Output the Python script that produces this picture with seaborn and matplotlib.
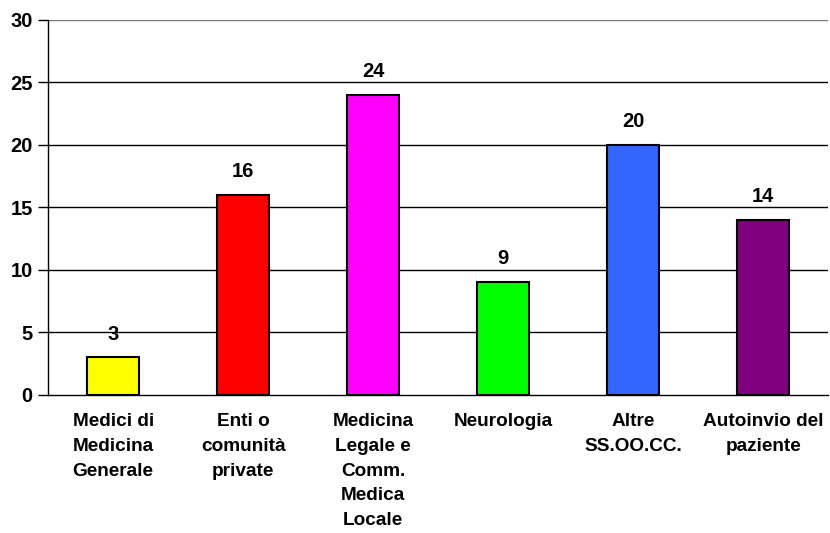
import matplotlib
matplotlib.use("Agg")
import matplotlib.pyplot as plt
import seaborn as sns
import pandas as pd
import numpy as np

categories = [
    "Medici di\nMedicina\nGenerale",
    "Enti o\ncomunità\nprivate",
    "Medicina\nLegale e\nComm.\nMedica\nLocale",
    "Neurologia",
    "Altre\nSS.OO.CC.",
    "Autoinvio del\npaziente",
]
values = [3, 16, 24, 9, 20, 14]
colors = ["#FFFF00", "#FF0000", "#FF00FF", "#00FF00", "#3366FF", "#800080"]
y_ticks = [0, 5, 10, 15, 20, 25, 30]

sns.set_style("white")
plt.rcParams["font.family"] = ["Liberation Sans", "DejaVu Sans"]
plt.rcParams["font.weight"] = "bold"
plt.rcParams["text.color"] = "black"
plt.rcParams["xtick.color"] = "black"
plt.rcParams["ytick.color"] = "black"

df = pd.DataFrame({"cat": categories, "val": values})

fig = plt.figure(figsize=(8.3, 5.33), dpi=100)
ax = fig.add_axes([0.058, 0.259, 0.94, 0.704])

sns.barplot(data=df, x="cat", y="val", hue="cat", palette=colors,
            saturation=1, width=0.4, edgecolor="black", linewidth=1.5,
            legend=False, ax=ax, zorder=3)

ax.set_ylim(0, 30)
ax.set_xlim(-0.5, len(categories) - 0.5)
ax.set_yticks(y_ticks)
ax.set_yticklabels([str(t) for t in y_ticks], fontsize=14.5, fontweight="bold")
for t in y_ticks[1:]:
    ax.axhline(t, color="black" if t < 30 else "#777777", lw=1, zorder=1)

ax.set_xlabel("")
ax.set_ylabel("")
ax.set_xticks(range(len(categories)))
ax.set_xticklabels(categories, fontsize=13.7, fontweight="bold",
                   linespacing=1.6, va="top")
ax.tick_params(axis="x", which="major", length=0, pad=13)
ax.set_xticks(np.arange(-0.5, len(categories)), minor=True)
ax.tick_params(axis="x", which="minor", length=7, width=1, color="black",
               direction="out")
ax.tick_params(axis="y", length=7, width=1, color="black", direction="out",
               left=True, pad=4)

for s in ["top", "right"]:
    ax.spines[s].set_visible(False)
for s in ["left", "bottom"]:
    ax.spines[s].set_color("black")
    ax.spines[s].set_linewidth(1)

for i, v in enumerate(values):
    ax.annotate(str(v), (i, v), xytext=(0, 10), textcoords="offset points",
                ha="center", va="bottom", fontsize=14.5, fontweight="bold")

fig.savefig("out.png", dpi=100, facecolor="white")
